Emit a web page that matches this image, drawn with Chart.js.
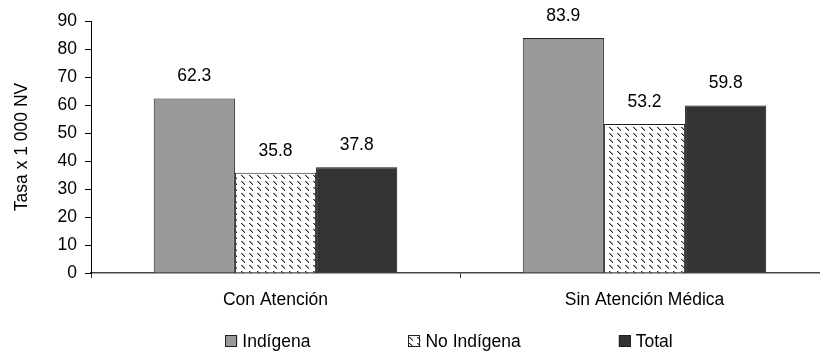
<!DOCTYPE html>
<html>
<head>
<meta charset="utf-8">
<script src="https://cdn.jsdelivr.net/npm/chart.js@4.4.0/dist/chart.umd.min.js"></script>
<style>
  html, body { margin: 0; padding: 0; background: #fff; overflow: hidden; }
  #wrap { width: 830px; height: 356px; }
</style>
</head>
<body>
<div id="wrap"><canvas id="tasaChart"></canvas></div>
<script>
// datos
const categorias = ['Con Atención', 'Sin Atención Médica'];
const indigena = [62.3, 83.9];
const noIndigena = [35.8, 53.2];
const total = [37.8, 59.8];
const yTicks = [0, 10, 20, 30, 40, 50, 60, 70, 80, 90];

const FONT = 'Liberation Sans, Arial, sans-serif';
const FSIZE = 17.5;

// trama diagonal para "No Indígena"
function makeHatch() {
    const c = document.createElement('canvas');
    c.width = 8;
    c.height = 6;
    const g = c.getContext('2d');
    g.fillStyle = '#fff';
    g.fillRect(0, 0, 8, 6);
    g.fillStyle = '#333';
    g.fillRect(1, 1, 1, 1);
    g.fillRect(2, 2, 1, 1);
    g.fillRect(3, 3, 1, 1);
    g.fillRect(4, 4, 1, 1);
    g.fillStyle = '#999';
    g.fillRect(2, 1, 1, 1);
    g.fillRect(3, 2, 1, 1);
    g.fillRect(4, 3, 1, 1);
    return g.createPattern(c, 'repeat');
}
const hatch = makeHatch();

// etiquetas de valor sobre las barras
const valueLabels = {
    id: 'valueLabels',
    afterDatasetsDraw(chart) {
        const ctx = chart.ctx;
        ctx.save();
        ctx.font = FSIZE + 'px ' + FONT;
        ctx.fillStyle = '#000';
        ctx.textAlign = 'center';
        ctx.textBaseline = 'middle';
        chart.data.datasets.forEach((ds, i) => {
            chart.getDatasetMeta(i).data.forEach((bar, j) => {
                ctx.fillText(ds.data[j].toFixed(1), bar.x, bar.y - 22);
            });
        });
        ctx.restore();
    }
};

// leyenda abajo, con separación ancha entre elementos
const wideLegend = {
    id: 'wideLegend',
    afterDraw(chart) {
        const ctx = chart.ctx;
        const box = 12, gapText = 5, gapItem = 98;
        ctx.save();
        ctx.font = FSIZE + 'px ' + FONT;
        const items = chart.data.datasets.map(ds => ({ text: ds.label, fill: ds.backgroundColor }));
        let w = 0;
        items.forEach((it, i) => {
            it.w = box + gapText + ctx.measureText(it.text).width;
            w += it.w + (i ? gapItem : 0);
        });
        const area = chart.chartArea;
        let x = (area.left + area.right) / 2 - 11 - w / 2;
        const y = 341;
        items.forEach(it => {
            ctx.fillStyle = it.fill;
            ctx.fillRect(x, y - box / 2, box, box);
            ctx.strokeStyle = '#222';
            ctx.lineWidth = 1;
            ctx.strokeRect(Math.round(x) + 0.5, y - box / 2 + 0.5, box - 1, box - 1);
            ctx.fillStyle = '#000';
            ctx.textBaseline = 'middle';
            ctx.textAlign = 'left';
            ctx.fillText(it.text, x + box + gapText, y + 1);
            x += it.w + gapItem;
        });
        ctx.restore();
    }
};

const ctx1 = document.getElementById('tasaChart');

new Chart(ctx1, {
    type: 'bar',
    data: {
        labels: categorias,
        datasets: [{
            label: 'Indígena',
            data: indigena,
            backgroundColor: '#999999',
            borderColor: '#222',
            borderWidth: 1
        }, {
            label: 'No Indígena',
            data: noIndigena,
            backgroundColor: hatch,
            borderColor: '#222',
            borderWidth: 1
        }, {
            label: 'Total',
            data: total,
            backgroundColor: '#333333',
            borderColor: '#111',
            borderWidth: 1
        }]
    },
    options: {
        responsive: true,
        maintainAspectRatio: false,
        animation: false,
        layout: { padding: { left: 0, right: 1, top: 21, bottom: 33 } },
        datasets: { bar: { categoryPercentage: 0.66, barPercentage: 1.0 } },
        plugins: {
            legend: { display: false },
            tooltip: { enabled: false }
        },
        scales: {
            x: {
                grid: { display: true, drawOnChartArea: false, drawTicks: true, tickLength: 5, color: '#333' },
                border: { color: '#444', width: 1.5 },
                ticks: { font: { family: FONT, size: FSIZE }, color: '#000', padding: 12 }
            },
            y: {
                min: 0,
                max: 90,
                afterBuildTicks(axis) {
                    axis.ticks = yTicks.map(v => ({ value: v }));
                },
                afterFit(axis) {
                    axis.width = 91;
                },
                grid: { drawOnChartArea: false, drawTicks: true, tickLength: 6, color: '#000' },
                border: { color: '#000', width: 1 },
                ticks: { font: { family: FONT, size: FSIZE }, color: '#000', padding: 8, autoSkip: false },
                title: {
                    display: true,
                    text: 'Tasa x 1 000 NV',
                    font: { family: FONT, size: FSIZE },
                    color: '#000',
                    padding: { top: 12, bottom: 0 }
                }
            }
        }
    },
    plugins: [valueLabels, wideLegend]
});
</script>
</body>
</html>
